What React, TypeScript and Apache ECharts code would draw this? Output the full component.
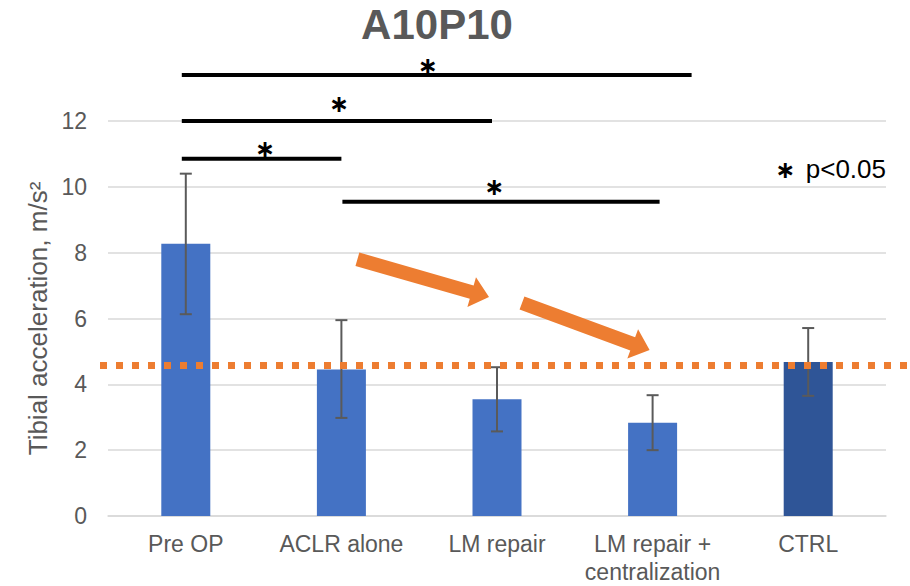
import React, { useEffect, useRef } from 'react';
import * as echarts from 'echarts';

const categories = ['Pre OP', 'ACLR alone', 'LM repair', 'LM repair +\ncentralization', 'CTRL'];
const meanValues = [8.27, 4.45, 3.55, 2.83, 4.68];
const errorLow = [6.13, 2.98, 2.57, 2.0, 3.65];
const errorHigh = [10.4, 5.95, 4.52, 3.67, 5.71];
const ctrlReference = 4.57;
const sigFrom = [0, 0, 0, 1];
const sigTo = [3, 2, 1, 3];
const sigLevel = [13.4, 12.0, 10.85, 9.55];
const arrowTailValue = [7.8, 6.47];
const arrowTipValue = [6.65, 5.04];

const FONT = '"Liberation Sans", Arial, sans-serif';
const GRAY = '#595959';

function arrowPoints(x1: number, y1: number, x2: number, y2: number, shaft: number, headW: number, headL: number) {
  const dx = x2 - x1, dy = y2 - y1;
  const L = Math.hypot(dx, dy);
  const ux = dx / L, uy = dy / L;
  const nx = -uy, ny = ux;
  const bx = x2 - ux * headL, by = y2 - uy * headL;
  const s = shaft / 2, h = headW / 2;
  return [
    [x1 + nx * s, y1 + ny * s],
    [bx + nx * s, by + ny * s],
    [bx + nx * h, by + ny * h],
    [x2, y2],
    [bx - nx * h, by - ny * h],
    [bx - nx * s, by - ny * s],
    [x1 - nx * s, y1 - ny * s],
  ];
}

export default function App() {
  const ref = useRef<HTMLDivElement>(null);
  useEffect(() => {
    document.body.style.margin = '0';
    if (!ref.current) return;
    const chart = echarts.init(ref.current, null, { renderer: 'svg' });
    const errData = categories.map((_, i) => [i, errorLow[i], errorHigh[i]]);
    chart.setOption({
      animation: false,
      grid: { left: 108, right: 24, top: 121, bottom: 67, containLabel: false },
      xAxis: {
        type: 'category',
        data: categories,
        axisTick: { show: false },
        axisLine: { lineStyle: { color: '#D9D9D9', width: 1.5 } },
        axisLabel: { color: GRAY, fontSize: 23, fontFamily: FONT, margin: 14, lineHeight: 28, interval: 0 },
      },
      yAxis: {
        type: 'value',
        min: 0,
        max: 12,
        interval: 2,
        name: 'Tibial acceleration, m/s²',
        nameLocation: 'middle',
        nameRotate: 90,
        nameGap: 56,
        nameTextStyle: { color: GRAY, fontSize: 26, fontFamily: FONT },
        axisLine: { show: false },
        axisTick: { show: false },
        axisLabel: { color: GRAY, fontSize: 23, fontFamily: FONT, margin: 21 },
        splitLine: { lineStyle: { color: '#D9D9D9', width: 1.5 } },
      },
      series: [
        {
          type: 'bar',
          barWidth: 49,
          data: meanValues.map((v, i) => ({
            value: v,
            itemStyle: { color: i === categories.length - 1 ? '#2F5597' : '#4472C4' },
          })),
        },
        {
          type: 'custom',
          data: errData,
          encode: { x: 0, y: [1, 2] },
          z: 5,
          renderItem: (params: any, api: any) => {
            const x = api.value(0);
            const lo = api.coord([x, api.value(1)]);
            const hi = api.coord([x, api.value(2)]);
            const w = 6;
            const style = { stroke: '#5A5A5A', lineWidth: 2, fill: 'none' };
            return {
              type: 'group',
              children: [
                { type: 'line', shape: { x1: lo[0], y1: lo[1], x2: hi[0], y2: hi[1] }, style },
                { type: 'line', shape: { x1: hi[0] - w, y1: hi[1], x2: hi[0] + w, y2: hi[1] }, style },
                { type: 'line', shape: { x1: lo[0] - w, y1: lo[1], x2: lo[0] + w, y2: lo[1] }, style },
              ],
            };
          },
        },
      ],
    });

    const cx = (i: number) => chart.convertToPixel({ xAxisIndex: 0 }, i) as number;
    const py = (v: number) => chart.convertToPixel({ yAxisIndex: 0 }, v) as number;

    const graphics: any[] = [];
    graphics.push({
      type: 'text',
      x: 437,
      y: 24,
      style: { text: 'A10P10', font: `bold 42px ${FONT}`, fill: GRAY, textAlign: 'center', textVerticalAlign: 'middle' },
    });

    const yRef = py(ctrlReference);
    graphics.push({
      type: 'line',
      z: 10,
      shape: { x1: 100, y1: yRef, x2: 910, y2: yRef },
      style: { stroke: '#ED7D31', lineWidth: 7, lineDash: [7, 9], lineCap: 'butt' },
    });

    const startAdj = [-4, -4, -4, 1];
    const endAdj = [39, -5, 0, 7];
    const starFrac = [0.482, 0.506, 0.52, 0.478];
    const starLift = [9, 17, 10, 15];
    const starFont = `bold 24px "DejaVu Sans", sans-serif`;
    sigFrom.forEach((f, k) => {
      const x1 = cx(f) + startAdj[k];
      const x2 = cx(sigTo[k]) + endAdj[k];
      const y = py(sigLevel[k]);
      graphics.push({
        type: 'line',
        z: 10,
        shape: { x1, y1: y, x2, y2: y },
        style: { stroke: '#000', lineWidth: 4 },
      });
      graphics.push({
        type: 'text',
        z: 11,
        x: x1 + (x2 - x1) * starFrac[k],
        y: y - starLift[k],
        style: { text: '∗', font: starFont, fill: '#000', textAlign: 'center', textVerticalAlign: 'middle' },
      });
    });

    graphics.push({
      type: 'text',
      x: 886,
      y: 169,
      style: { text: 'p<0.05', font: `26px ${FONT}`, fill: '#000', textAlign: 'right', textVerticalAlign: 'middle' },
    });
    graphics.push({
      type: 'text',
      x: 785,
      y: 170,
      style: { text: '∗', font: starFont, fill: '#000', textAlign: 'center', textVerticalAlign: 'middle' },
    });

    const tailX = [cx(1) + 16, cx(2) + 25];
    const tipX = [cx(2) - 8, cx(3) - 3];
    for (let k = 0; k < 2; k++) {
      const pts = arrowPoints(tailX[k], py(arrowTailValue[k]), tipX[k], py(arrowTipValue[k]), 14, 31, 18);
      graphics.push({
        type: 'polygon',
        z: 10,
        shape: { points: pts },
        style: { fill: '#ED7D31', stroke: 'none' },
      });
    }

    chart.setOption({ graphic: graphics });
    return () => chart.dispose();
  }, []);
  return <div ref={ref} style={{ width: 910, height: 586, background: '#fff' }} />;
}
